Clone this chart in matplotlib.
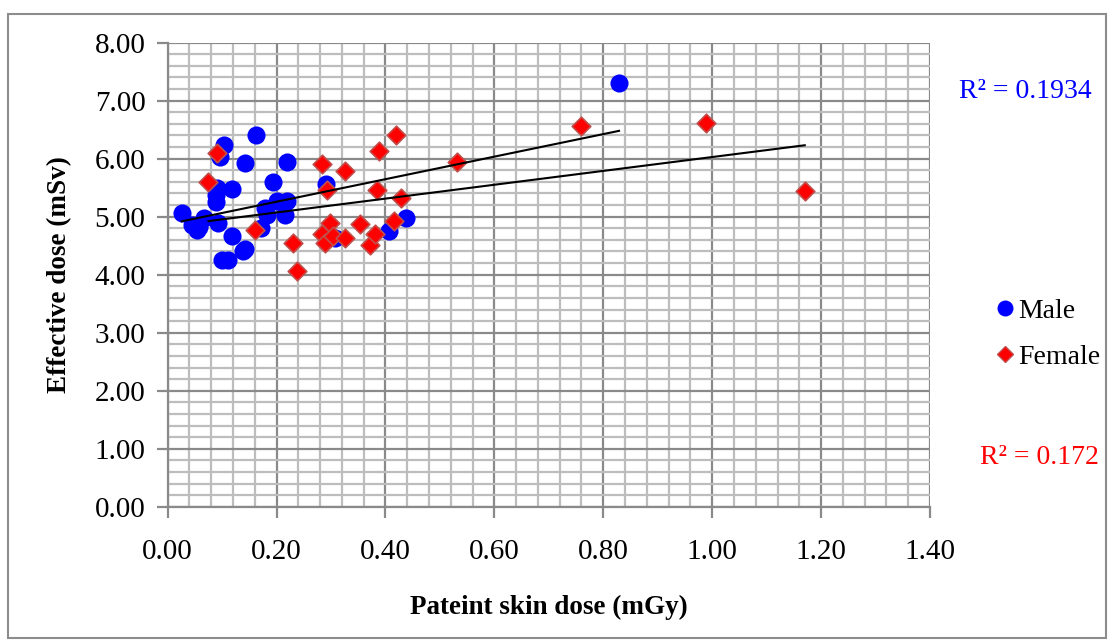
import matplotlib

matplotlib.use("Agg")
import matplotlib.pyplot as plt
import numpy as np
from matplotlib.lines import Line2D
from matplotlib.patches import Rectangle
from matplotlib.ticker import MultipleLocator

plt.rcParams["font.family"] = ["Liberation Serif", "DejaVu Serif"]

# skin dose (mGy) vs effective dose (mSv)
male_skin = [0.026, 0.044, 0.053, 0.058, 0.067, 0.088, 0.089, 0.090, 0.093, 0.096,
             0.104, 0.099, 0.111, 0.118, 0.119, 0.139, 0.142, 0.142, 0.162, 0.172,
             0.179, 0.182, 0.194, 0.201, 0.219, 0.215, 0.219, 0.291, 0.307, 0.406,
             0.438, 0.829]
male_eff = [5.06, 4.85, 4.77, 4.82, 4.97, 5.26, 5.38, 5.49, 4.89, 6.03,
            6.24, 4.25, 4.25, 5.47, 4.66, 4.40, 4.45, 5.92, 6.41, 4.80,
            5.15, 5.03, 5.59, 5.27, 5.27, 5.03, 5.95, 5.56, 4.63, 4.75,
            4.98, 7.31]

female_skin = [0.075, 0.090, 0.160, 0.231, 0.237, 0.284, 0.283, 0.289, 0.292, 0.298,
               0.304, 0.326, 0.326, 0.353, 0.372, 0.381, 0.384, 0.389, 0.416, 0.419,
               0.428, 0.531, 0.759, 0.989, 1.170]
female_eff = [5.60, 6.09, 4.77, 4.54, 4.06, 5.90, 4.71, 4.54, 5.46, 4.89,
              4.66, 4.63, 5.78, 4.87, 4.51, 4.71, 5.46, 6.13, 4.93, 6.41,
              5.33, 5.95, 6.56, 6.61, 5.44]

male_r2 = "R² = 0.1934"
female_r2 = "R² = 0.172"

fig = plt.figure(figsize=(11.14, 6.41), dpi=100)
fig.patches.append(Rectangle((8 / 1114, 3 / 641), 1098 / 1114, 624 / 641,
                             transform=fig.transFigure, fill=False,
                             edgecolor="#8c8c8c", linewidth=1.5))
ax = fig.add_axes([0.1505, 0.2095, 0.6843, 0.7239])

ax.set_xlim(0, 1.4)
ax.set_ylim(0, 8)
ax.xaxis.set_major_locator(MultipleLocator(0.2))
ax.xaxis.set_minor_locator(MultipleLocator(0.04))
ax.yaxis.set_major_locator(MultipleLocator(1))
ax.yaxis.set_minor_locator(MultipleLocator(0.2))
ax.grid(which="minor", color="#bdbdbd", linewidth=1.6)
ax.grid(which="major", color="#8a8a8a", linewidth=1.6)
ax.set_axisbelow(True)
for side in ("top", "right"):
    ax.spines[side].set_visible(False)
for side in ("left", "bottom"):
    ax.spines[side].set_color("#8a8a8a")
    ax.spines[side].set_linewidth(1.6)
ax.tick_params(which="major", length=8, width=1.6, color="#8a8a8a",
               labelsize=21)
ax.tick_params(which="minor", length=0)
ax.tick_params(axis="y", pad=8)
ax.tick_params(axis="x", pad=15)
ax.xaxis.set_major_formatter(lambda v, p: f"{v:.2f}")
ax.yaxis.set_major_formatter(lambda v, p: f"{v:.2f}")

ax.scatter(male_skin, male_eff, s=170, marker="o", color="#0000ff",
           linewidths=0, zorder=3)
ax.scatter(female_skin, female_eff, s=90, marker="D", color="#ff0000",
           edgecolors="#c0504d", linewidths=1.2, zorder=4)

# linear trendlines over each series' range
for xs, ys in ((male_skin, male_eff), (female_skin, female_eff)):
    k, b = np.polyfit(xs, ys, 1)
    xr = np.array([min(xs), max(xs)])
    ax.plot(xr, k * xr + b, color="black", linewidth=1.5, zorder=5)

ax.set_xlabel("Pateint skin dose (mGy)", fontsize=19.5, fontweight="bold",
              labelpad=22)
ax.set_ylabel("Effective dose (mSv)", fontsize=19.5, fontweight="bold",
              labelpad=16)

fig.text(1025 / 1114, 1 - 91 / 641, male_r2, color="#0000ff", fontsize=20,
         ha="center", va="center")
fig.text(1039 / 1114, 1 - 458 / 641, female_r2, color="#ff0000", fontsize=20,
         ha="center", va="center")

handles = [
    Line2D([], [], marker="o", linestyle="none", color="#0000ff",
           markersize=11.5, markeredgewidth=0),
    Line2D([], [], marker="D", linestyle="none", color="#ff0000",
           markeredgecolor="#c0504d", markersize=8),
]
fig.legend(handles, ["Male", "Female"], loc="center left",
           bbox_to_anchor=(972 / 1114, 1 - 334 / 641), frameon=False,
           fontsize=20, handlelength=0.6, handletextpad=0.15,
           labelspacing=0.75)

fig.savefig("out.png", dpi=100)
